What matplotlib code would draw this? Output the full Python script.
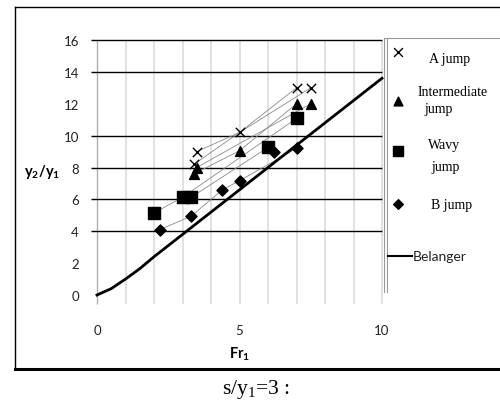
import numpy as np
import matplotlib
matplotlib.use("Agg")
import matplotlib.pyplot as plt

plt.rcParams["mathtext.fontset"] = "custom"
plt.rcParams["mathtext.bf"] = "Lato:bold"
plt.rcParams["mathtext.rm"] = "Liberation Serif"

# data (Fr1 vs y2/y1)
a_x = [3.4, 3.5, 5.0, 7.0, 7.5]
a_y = [8.2, 9.0, 10.2, 13.0, 13.0]
a_links = [[0, 2, 3], [1, 2, 4]]

int_x = [3.4, 3.5, 5.0, 7.0, 7.5]
int_y = [7.6, 8.0, 9.05, 12.0, 12.0]
int_links = [[0, 2, 3], [1, 4]]

wavy_x = [2.0, 3.0, 3.3, 6.0, 7.0]
wavy_y = [5.15, 6.13, 6.13, 9.26, 11.08]
wavy_links = [[0, 1, 4], [2, 3]]

b_x = [2.2, 3.3, 4.4, 5.0, 6.2, 7.0]
b_y = [4.1, 4.94, 6.6, 7.17, 9.0, 9.2]
b_links = [[0, 1, 2, 3, 5]]

bel_x = [0, 0.5, 1, 1.5, 2, 3, 4, 5, 6, 7, 8, 9, 10]
bel_y = [0, 0.4, 1.0, 1.65, 2.4, 3.8, 5.2, 6.6, 8.0, 9.4, 10.8, 12.2, 13.6]

y_grid = [4, 6, 8, 10, 14, 16]
x_grid = [1, 2, 3, 4, 5, 6, 7, 8, 9, 10]
x_ticks = [0, 5, 10]
y_ticks = [0, 2, 4, 6, 8, 10, 12, 14, 16]

W, H = 500, 406
fig = plt.figure(figsize=(W / 100, H / 100), dpi=100)


def fx(px):
    return px / W


def fy(py):
    return 1 - py / H


ax = fig.add_axes([fx(97), fy(296), fx(382) - fx(97), fy(41) - fy(296)])
ax.set_xlim(0, 10)
ax.set_ylim(0, 16)
for s in ax.spines.values():
    s.set_visible(False)
ax.tick_params(length=0)
ax.set_xticks(x_ticks)
ax.set_yticks(y_ticks)
ax.set_xticklabels([str(v) for v in x_ticks], fontsize=9.5, family="Lato", color="#222222")
ax.set_yticklabels([str(v) for v in y_ticks], fontsize=9.5, family="Lato", color="#222222")
ax.tick_params(axis="x", pad=21)
ax.tick_params(axis="y", pad=13)

# grid lines
ax.vlines(x_grid, -0.55, 16, color="#d8d8d8", lw=1.1, clip_on=False, zorder=0)
ax.vlines([0], -0.55, 16, color="#b0b0b0", lw=1.0, clip_on=False, zorder=0)
ax.hlines(y_grid, -0.2, 10, color="black", lw=1.0, clip_on=False, zorder=1)

# thin connecting lines
for xs, ys, links in [(a_x, a_y, a_links), (int_x, int_y, int_links),
                      (wavy_x, wavy_y, wavy_links), (b_x, b_y, b_links)]:
    for idx in links:
        ax.plot([xs[i] for i in idx], [ys[i] for i in idx], color="#8a8a8a", lw=0.6, zorder=2)

ax.plot(bel_x, bel_y, color="black", lw=2.0, zorder=3, clip_on=False)
ax.scatter(a_x, a_y, marker="x", s=45, color="black", lw=1.0, zorder=4)
ax.scatter(int_x, int_y, marker="^", s=50, color="black", zorder=4)
ax.scatter(wavy_x, wavy_y, marker="s", s=80, color="black", zorder=4)
ax.scatter(b_x, b_y, marker="D", s=32, color="black", zorder=4)

# axis titles
fig.text(fx(42), fy(172), r"$\mathbf{y_2/y_1}$", ha="center", va="center", fontsize=10.5)
fig.text(fx(240), fy(354), r"$\mathbf{Fr_1}$", ha="center", va="center", fontsize=10.5)

# legend box
ov = fig.add_axes([0, 0, 1, 1], facecolor="none")
ov.set_xlim(0, W)
ov.set_ylim(H, 0)
ov.axis("off")
ov.plot([384, 384], [39, 293], color="#999999", lw=0.8)
ov.plot([387, 387], [39, 293], color="#999999", lw=0.8)
ov.plot([384, 500], [39, 39], color="#999999", lw=0.8)

ov.scatter([398], [53], marker="x", s=40, color="black", lw=1.0)
ov.scatter([398], [102], marker="^", s=40, color="black")
ov.scatter([398], [152], marker="s", s=45, color="black")
ov.scatter([398], [205], marker="D", s=24, color="black")
ov.plot([388, 412], [257, 257], color="black", lw=1.5)

serif = "Liberation Serif"
ov.text(429, 60, "A jump", family=serif, fontsize=10, va="center")
ov.text(418, 92, "Intermediate", family=serif, fontsize=10, va="center", clip_on=True)
ov.text(424, 110, "jump", family=serif, fontsize=10, va="center")
ov.text(428, 146, "Wavy", family=serif, fontsize=10, va="center")
ov.text(431, 168, "jump", family=serif, fontsize=10, va="center")
ov.text(431, 206, "B jump", family=serif, fontsize=10, va="center")
ov.text(413, 257, "Belanger", family="Lato", fontsize=10, va="center", color="#222222")

# outer frame and bottom rule
ov.plot([15, 500], [8, 8], color="black", lw=1.0)
ov.plot([15, 15], [8, 370], color="black", lw=1.0)
ov.plot([15, 500], [370, 370], color="black", lw=2.2)

ov.text(256, 390, r"s/y$_1$=3 :", family=serif, fontsize=15.5, ha="center", va="center")

fig.savefig("out.png", dpi=100)
